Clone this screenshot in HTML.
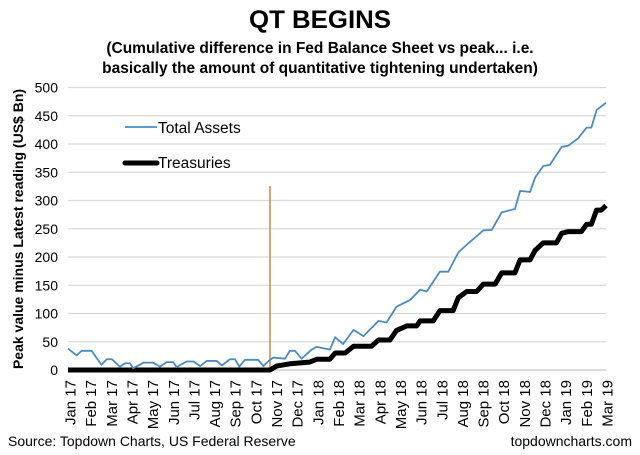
<!DOCTYPE html>
<html><head><meta charset="utf-8"><style>
body{margin:0;background:#fff;}
svg{display:block;font-family:"Liberation Sans",Arial,sans-serif;}
</style></head><body>
<svg id="chart" width="640" height="455" viewBox="0 0 640 455" xmlns="http://www.w3.org/2000/svg">
<text x="320" y="28" text-anchor="middle" font-size="25" font-weight="bold" textLength="142" lengthAdjust="spacingAndGlyphs">QT BEGINS</text>
<text x="320" y="53" text-anchor="middle" font-size="15.5" font-weight="bold">(Cumulative difference in Fed Balance Sheet vs peak... i.e.</text>
<text x="320" y="73" text-anchor="middle" font-size="15.5" font-weight="bold">basically the amount of quantitative tightening undertaken)</text>
<text transform="translate(23,229) rotate(-90)" text-anchor="middle" font-size="14" font-weight="bold">Peak value minus Latest reading (US$ Bn)</text>
<g id="grid"></g><g id="yticks"></g><g id="xticks"></g><g id="series"></g>
<g>
<line x1="125" y1="127" x2="157" y2="127" stroke="#4a8bc2" stroke-width="1.8"/>
<text x="158" y="133" font-size="15.5">Total Assets</text>
<line x1="125" y1="163" x2="157" y2="163" stroke="#000" stroke-width="5" stroke-linecap="round"/>
<text x="158" y="168" font-size="15.5">Treasuries</text>
</g>
<text x="8" y="446" font-size="14">Source: Topdown Charts, US Federal Reserve</text>
<text x="632" y="446" text-anchor="end" font-size="14">topdowncharts.com</text>
</svg>
<script>
const yTicks=[0,50,100,150,200,250,300,350,400,450,500];
const monthLabels=["Jan 17","Feb 17","Mar 17","Apr 17","May 17","Jun 17","Jul 17","Aug 17","Sep 17","Oct 17","Nov 17","Dec 17","Jan 18","Feb 18","Mar 18","Apr 18","May 18","Jun 18","Jul 18","Aug 18","Sep 18","Oct 18","Nov 18","Dec 18","Jan 19","Feb 19","Mar 19"];
const taWeeks=[0,1.8,2.9,5,7.1,8.2,9.3,11,12.1,13.1,13.8,16,18,19.5,20.9,22.3,23,25.1,26.6,28,29.4,31.5,32.6,34.3,35.4,36.3,37.5,40.3,41.4,42.4,43.5,46,47,48.1,49.5,51.6,52.7,55.5,56.6,58.3,60.5,62.6,65.8,67.5,69.6,72.5,74.6,76,78.8,80.6,82.7,84.8,88,89.8,91.9,94.7,95.8,97.9,99,100.7,102.1,104.6,106,108.1,109.9,110.9,112,114];
const taValues=[38,26,34,34,9,19,19,6,12,12,3,13,13,6,14,14,5,15,15,7,16,16,8,19,19,6,18,18,7,15,22,20,34,34,20,36,41,36,58,46,71,60,87,84,112,124,142,139,174,174,208,224,247,248,279,285,317,315,341,361,363,395,397,410,429,429,460,473];
const trWeeks=[0,42.8,44.2,47,51.2,52.7,55.5,56.6,58.7,60.5,64.3,65.8,68.2,69.6,71.8,73.9,74.6,77.4,78.8,81.6,82.7,84.5,86.6,88,90.5,91.9,94.7,95.8,97.9,99,100.7,103.5,104.6,106,108.8,109.9,110.9,112,113,114];
const trValues=[0,0,7,11,14,19,19,30,30,42,42,53,53,70,78,78,87,87,105,105,128,139,139,152,152,172,172,195,195,212,225,225,242,245,245,258,258,283,283,291];
const eventWeek=42.8;
const X0=68,X1=606,Y0=370,Y1=87.5,WMAX=114,YMAX=500;
const NS="http://www.w3.org/2000/svg";
const xs=w=>X0+(X1-X0)*w/WMAX;
const ys=v=>Y0-(Y0-Y1)*v/YMAX;
function mk(tag,attrs,parent){const e=document.createElementNS(NS,tag);for(const k in attrs)e.setAttribute(k,attrs[k]);parent.appendChild(e);return e;}
const grid=document.getElementById('grid'),yt=document.getElementById('yticks'),xt=document.getElementById('xticks'),ser=document.getElementById('series');
yTicks.forEach(v=>{
 const l=mk('line',{x1:X0,x2:X1,y1:ys(v),y2:ys(v),stroke:v===0?'#c8c8c8':'#d9d9d9','stroke-width':1.2},grid);
 
 
 const t=mk('text',{x:58,y:ys(v)+5,'text-anchor':'end','font-size':14},yt);
 t.textContent=v;
 
 
});
monthLabels.forEach((m,i)=>{
 const x=70+i*(607-70)/(monthLabels.length-1);
 const t=mk('text',{transform:`translate(${x+5.5},380) rotate(-90)`,'text-anchor':'end','font-size':15},xt);
 t.textContent=m;
 
 
});
const ev=mk('line',{x1:xs(eventWeek),x2:xs(eventWeek),y1:186,y2:Y0,stroke:'#d9823f','stroke-width':1.5},ser);


const tr=mk('polyline',{points:trWeeks.map((w,i)=>xs(w)+','+ys(trValues[i])).join(' '),fill:'none',stroke:'#000','stroke-width':5,'stroke-linejoin':'round'},ser);


const ta=mk('polyline',{points:taWeeks.map((w,i)=>xs(w)+','+ys(taValues[i])).join(' '),fill:'none',stroke:'#4a8bc2','stroke-width':1.8,'stroke-linejoin':'round'},ser);


</script>
</body></html>
